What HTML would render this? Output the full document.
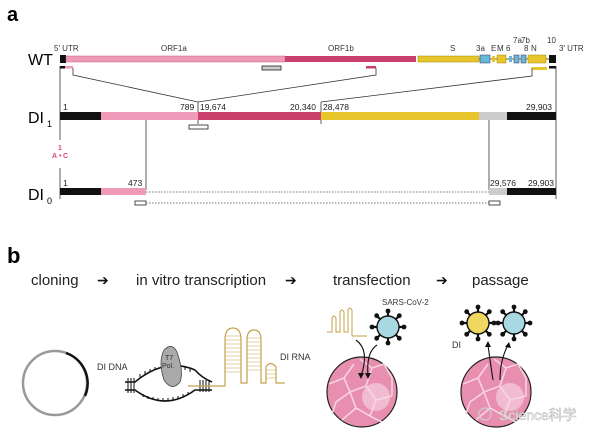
<!DOCTYPE html>
<html><head><meta charset="utf-8"><style>
html,body{margin:0;padding:0;background:#fff;}
svg{display:block;font-family:"Liberation Sans","Noto Sans CJK SC",sans-serif;}
</style></head><body>
<svg width="600" height="443" viewBox="0 0 600 443" xmlns="http://www.w3.org/2000/svg">
<defs>
<g id="vir">
 <g stroke="#111" stroke-width="2.2">
  <line x1="0" y1="-16" x2="0" y2="16"/><line x1="-16" y1="0" x2="16" y2="0"/>
  <line x1="-11.3" y1="-11.3" x2="11.3" y2="11.3"/><line x1="-11.3" y1="11.3" x2="11.3" y2="-11.3"/>
 </g>
 <g fill="#111">
  <circle cx="0" cy="-16" r="2.4"/><circle cx="0" cy="16" r="2.4"/><circle cx="-16" cy="0" r="2.4"/><circle cx="16" cy="0" r="2.4"/>
  <circle cx="-11.3" cy="-11.3" r="2.4"/><circle cx="11.3" cy="11.3" r="2.4"/><circle cx="-11.3" cy="11.3" r="2.4"/><circle cx="11.3" cy="-11.3" r="2.4"/>
 </g>
</g>
<g id="cell">
 <circle r="35" fill="#e88fb0" stroke="#222" stroke-width="1.2"/>
 <g stroke="#f7d3e1" stroke-width="1.6" fill="none">
  <path d="M-33 -8 L-18 -14 L-8 -28 M-18 -14 L-12 0 L-26 10 M-12 0 L4 -6 L10 -24 L22 -28 M4 -6 L14 8 L30 4 M14 8 L8 24 L-6 16 L-12 0 M-6 16 L-20 28 M8 24 L20 30 M-26 10 L-30 22 M10 -24 L-2 -33 M22 -28 L30 -14 L30 4"/>
 </g>
 <circle cx="14" cy="5" r="14" fill="#f6dbe5" opacity="0.6"/>
</g>
</defs>

<!-- panel a -->
<text x="7" y="21" font-size="20" font-weight="bold">a</text>
<text x="28" y="65" font-size="16">WT</text>
<text x="28" y="123" font-size="16">DI</text><text x="47" y="127" font-size="9">1</text>
<text x="28" y="200" font-size="16">DI</text><text x="47" y="204" font-size="9">0</text>

<g font-size="8" fill="#333">
 <text x="54" y="51">5′ UTR</text>
 <text x="161" y="51">ORF1a</text>
 <text x="328" y="51">ORF1b</text>
 <text x="450" y="51">S</text>
 <text x="476" y="51">3a</text>
 <text x="491" y="51">E</text><text x="497" y="51">M</text><text x="506" y="51">6</text>
 <text x="513" y="43">7a</text><text x="521" y="43">7b</text>
 <text x="524" y="51">8</text><text x="531" y="51">N</text>
 <text x="547" y="43">10</text>
 <text x="559" y="51">3′ UTR</text>
</g>
<!-- WT bar -->
<rect x="60" y="55" width="6" height="8" fill="#111"/>
<rect x="66" y="56" width="219" height="6" fill="#ef9ab8" stroke="#c06080" stroke-width="0.5"/>
<rect x="285" y="56" width="131" height="6" fill="#c9406c"/>
<rect x="418" y="56" width="61" height="6" fill="#e8c52a" stroke="#a08810" stroke-width="0.5"/>
<line x1="479" y1="59" x2="549" y2="59" stroke="#a08810" stroke-width="1.2"/>
<rect x="480" y="55" width="10" height="8" fill="#67b7d8" stroke="#336" stroke-width="0.5"/>
<rect x="492" y="56" width="3" height="6" fill="#e8c52a"/>
<rect x="497" y="55" width="9" height="8" fill="#e8c52a" stroke="#a08810" stroke-width="0.5"/>
<rect x="509" y="56" width="3" height="6" fill="#67b7d8"/>
<rect x="514" y="55" width="5" height="8" fill="#67b7d8" stroke="#336" stroke-width="0.5"/>
<rect x="521" y="55" width="5" height="8" fill="#67b7d8" stroke="#336" stroke-width="0.5"/>
<rect x="528" y="55" width="18" height="8" fill="#e8c52a" stroke="#a08810" stroke-width="0.5"/>
<rect x="549" y="55" width="7" height="8" fill="#111"/>
<!-- marks under WT -->
<rect x="60" y="66" width="5" height="2.5" fill="#111"/>
<rect x="65" y="66" width="8" height="2.5" fill="#ef9ab8"/>
<rect x="262" y="66" width="19" height="4" fill="#ccc" stroke="#222" stroke-width="0.8"/>
<rect x="366" y="66" width="10" height="2.5" fill="#c9406c"/>
<rect x="532" y="67" width="15" height="3" fill="#e8c52a"/>
<rect x="549" y="66" width="7" height="2.5" fill="#111"/>
<!-- connectors -->
<g stroke="#333" stroke-width="0.8" fill="none">
 <path d="M73 68 V75 L198 102"/>
 <path d="M376 68 V75 L198 102"/>
 <path d="M532 68 V76 L321 102"/>
 <line x1="60" y1="66" x2="60" y2="199"/>
 <line x1="556" y1="66" x2="556" y2="199"/>
 <line x1="198" y1="102" x2="198" y2="124"/>
 <line x1="321" y1="102" x2="321" y2="124"/>
 <line x1="146" y1="120" x2="146" y2="190"/>
 <line x1="489" y1="120" x2="489" y2="190"/>
</g>
<rect x="59" y="140" width="3" height="28" fill="#fff"/>
<g font-size="7" fill="#e0427a" font-weight="bold"><text x="58" y="150">1</text><text x="52" y="158">A</text><text x="59" y="158">•</text><text x="63" y="158">C</text></g>
<!-- numbers -->
<g font-size="8.5" fill="#222">
 <text x="63" y="110">1</text>
 <text x="180" y="110">789</text><text x="200" y="110">19,674</text>
 <text x="290" y="110">20,340</text><text x="323" y="110">28,478</text>
 <text x="526" y="110">29,903</text>
 <text x="63" y="186">1</text>
 <text x="128" y="186">473</text>
 <text x="490" y="186">29,576</text><text x="528" y="186">29,903</text>
</g>
<rect x="60" y="112" width="41" height="8" fill="#111"/>
<rect x="101" y="112" width="97" height="8" fill="#ef9ab8"/>
<rect x="198" y="112" width="123" height="8" fill="#c9406c"/>
<rect x="321" y="112" width="158" height="8" fill="#e8c52a"/>
<rect x="479" y="112" width="28" height="8" fill="#ccc"/>
<rect x="507" y="112" width="49" height="8" fill="#111"/>
<rect x="189" y="125" width="19" height="4" fill="#fff" stroke="#222" stroke-width="0.8"/>
<!-- DI0 -->
<rect x="60" y="188" width="41" height="7" fill="#111"/>
<rect x="101" y="188" width="45" height="7" fill="#ef9ab8"/>
<line x1="146" y1="192" x2="489" y2="192" stroke="#777" stroke-width="0.9" stroke-dasharray="1.5,1.5"/>
<rect x="489" y="188" width="18" height="7" fill="#ccc"/>
<rect x="507" y="188" width="49" height="7" fill="#111"/>
<rect x="135" y="201" width="11" height="4" fill="#fff" stroke="#222" stroke-width="0.8"/>
<rect x="489" y="201" width="11" height="4" fill="#fff" stroke="#222" stroke-width="0.8"/>
<line x1="146" y1="203" x2="489" y2="203" stroke="#777" stroke-width="0.9" stroke-dasharray="1.5,1.5"/>

<!-- panel b -->
<text x="7" y="263" font-size="22" font-weight="bold">b</text>
<g font-size="15" fill="#222">
 <text x="31" y="285">cloning</text>
 <text x="136" y="285">in vitro transcription</text>
 <text x="333" y="285">transfection</text>
 <text x="472" y="285">passage</text>
</g>
<g font-size="14" fill="#111"><text x="97" y="285">➔</text><text x="285" y="285">➔</text><text x="436" y="285">➔</text></g>

<!-- plasmid -->
<circle cx="55" cy="383" r="32" fill="none" stroke="#999" stroke-width="2.5"/>
<path d="M66 353 A32 32 0 0 1 85 396" fill="none" stroke="#111" stroke-width="2.5"/>
<text x="97" y="370" font-size="9" fill="#333">DI DNA</text>
<!-- DNA bubble -->
<g stroke="#111" stroke-width="1.6" fill="none">
 <path d="M125 382 H135 Q165 357 195 370"/>
 <path d="M125 390 H135 Q165 412 195 390 H212"/>
 <path d="M195 370 Q202 378 212 382"/>
</g>
<g stroke="#111" stroke-width="1">
 <line x1="128" y1="378" x2="128" y2="393"/><line x1="131" y1="378" x2="131" y2="393"/><line x1="134" y1="378" x2="134" y2="393"/>
 <line x1="200" y1="380" x2="200" y2="392"/><line x1="203" y1="380" x2="203" y2="392"/><line x1="206" y1="380" x2="206" y2="392"/><line x1="209" y1="380" x2="209" y2="392"/>
 <path d="M140 374 v3 M145 371 v3 M150 369 v3 M155 367 v3 M185 367 v3 M190 369 v3 M143 397 v-3 M148 399 v-3 M153 400 v-3 M158 401 v-3 M163 401 v-3 M168 401 v-3 M173 400 v-3 M178 399 v-3 M183 397 v-3 M188 395 v-3" />
</g>
<path d="M164 350 Q172 342 177 352 Q184 372 180 382 Q172 392 164 380 Q158 362 164 350 Z" fill="#aaa" stroke="#444" stroke-width="0.8"/>
<text x="165" y="360" font-size="7" fill="#333">T7</text><text x="162" y="368" font-size="7" fill="#333">Pol.</text>
<!-- RNA -->
<g stroke="#c4a24a" stroke-width="1.2" fill="none">
 <path d="M188 386 H225 V340 Q225 328 233 328 Q241 328 241 340 V383 H247 V340 Q247 330 254 330 Q261 330 261 340 V383 H266 V367 Q270 360 276 367 V383 H285"/>
</g>
<g stroke="#c4a24a" stroke-width="0.6">
 <path d="M225 336h16M225 340h16M225 344h16M225 348h16M225 352h16M225 356h16M225 360h16M225 364h16M225 368h16M225 372h16M247 338h14M247 342h14M247 346h14M247 350h14M247 354h14M247 358h14M247 362h14M247 366h14M247 370h14M266 370h10M266 374h10M266 378h10"/>
</g>
<text x="280" y="360" font-size="9" fill="#333">DI RNA</text>

<!-- transfection -->
<use href="#cell" x="362" y="392"/>
<g stroke="#c4a24a" stroke-width="1" fill="none"><path d="M327 332 H332 V318 Q334 314 336 318 V332 H340 V312 Q342 308 344 312 V332 H348 V310 Q350 306 352 310 V336 H367"/></g>
<use href="#vir" x="388" y="327"/>
<circle cx="388" cy="327" r="11" fill="#a8d8e2" stroke="#111" stroke-width="1.4"/>
<text x="382" y="305" font-size="8" fill="#333">SARS-CoV-2</text>
<g stroke="#111" stroke-width="1.1" fill="none"><path d="M356 340 Q370 350 361 376"/><path d="M377 345 Q366 352 368 376"/></g>
<path d="M358 373 l3 6 l3 -6 z M365 373 l3 6 l3 -6 z" fill="#111"/>

<!-- passage -->
<use href="#cell" x="496" y="392"/>
<use href="#vir" x="478" y="323"/>
<circle cx="478" cy="323" r="11" fill="#f0d860" stroke="#111" stroke-width="1.4"/>
<use href="#vir" x="514" y="323"/>
<circle cx="514" cy="323" r="11" fill="#a8d8e2" stroke="#111" stroke-width="1.4"/>
<text x="452" y="348" font-size="9" fill="#333">DI</text>
<g stroke="#111" stroke-width="1.1" fill="none"><path d="M493 380 Q490 360 488 345"/><path d="M500 380 Q500 360 508 345"/></g>
<path d="M485 347 l3 -6 l3 6 z M505 347 l4 -5 l2 6 z" fill="#111"/>
<text x="499" y="420" font-size="14" fill="#fff" stroke="#bbb" stroke-width="0.6">Science科学</text>
<circle cx="485" cy="414" r="6" fill="none" stroke="#ccc" stroke-width="1.2"/>
</svg>
</body></html>
